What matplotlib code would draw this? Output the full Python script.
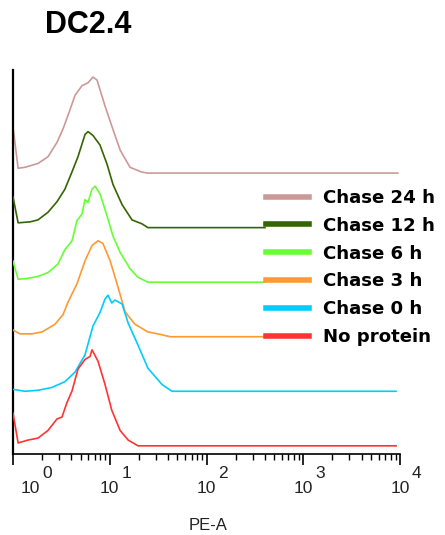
import numpy as np
import matplotlib.pyplot as plt
from matplotlib.lines import Line2D
from matplotlib.ticker import LogLocator, NullFormatter
import matplotlib.transforms as mtransforms

# PE-A values and counts (% of mode)
labels = ['Chase 24 h', 'Chase 12 h', 'Chase 6 h', 'Chase 3 h', 'Chase 0 h', 'No protein']
colors = ['#cc9999', '#336600', '#66ff33', '#ff9933', '#00ccff', '#ff3333']

pe_24h = [1.0, 1.13, 1.33, 1.81, 2.30, 2.85, 3.29, 3.70, 4.38, 5.16, 5.96, 6.71, 7.38, 8.93,
          10.5, 12.8, 16.2, 21.5, 24.8, 9500]
cnt_24h = [48, 5, 6, 10, 17, 32, 46, 60, 81, 91, 94, 100, 97, 70, 49, 24, 6, 1, 0, 0]

pe_12h = [1.0, 1.13, 1.50, 1.81, 2.30, 2.85, 3.44, 4.07, 4.70, 5.55, 5.96, 6.71, 7.93, 9.38,
          10.8, 13.4, 17.0, 21.5, 24.8, 9500]
cnt_12h = [32, 5, 6, 8, 16, 27, 40, 58, 74, 97, 100, 96, 86, 66, 45, 24, 8, 4, 0, 0]

pe_6h = [1.0, 1.13, 1.43, 1.81, 2.30, 2.92, 3.44, 4.07, 4.58, 5.16, 5.55, 5.96, 6.56, 7.05,
         7.93, 9.38, 10.8, 12.8, 16.2, 19.6, 24.8, 9500]
cnt_6h = [22, 3, 4, 6, 10, 19, 34, 43, 64, 71, 86, 83, 97, 100, 92, 69, 48, 31, 14, 5, 0, 0]

pe_3h = [1.0, 1.18, 1.57, 2.00, 2.72, 3.29, 3.70, 4.58, 5.55, 6.56, 7.57, 8.51, 10.1, 11.9,
         14.4, 18.2, 24.8, 34.7, 42.0, 9500]
cnt_3h = [7, 3, 3, 5, 13, 23, 36, 55, 79, 95, 100, 97, 79, 55, 26, 13, 5, 2, 0, 0]

pe_0h = [1.0, 1.33, 1.81, 2.53, 3.44, 4.38, 5.55, 6.71, 7.93, 8.93, 9.59, 10.5, 11.3, 13.4,
         15.5, 19.6, 24.8, 34.7, 44.0, 9100]
cnt_0h = [2, 0, 1, 4, 10, 20, 38, 68, 82, 96, 100, 92, 95, 91, 71, 48, 24, 7, 0, 0]

pe_np = [1.0, 1.13, 1.43, 1.81, 2.30, 2.85, 3.21, 3.61, 4.07, 4.70, 5.55, 6.25, 6.56, 7.57,
         8.93, 10.5, 12.8, 15.5, 19.6, 9100]
cnt_np = [34, 3, 6, 8, 16, 28, 30, 45, 57, 80, 90, 93, 100, 88, 64, 37, 16, 6, 0, 0]

series_x = [pe_24h, pe_12h, pe_6h, pe_3h, pe_0h, pe_np]
series_y = [cnt_24h, cnt_12h, cnt_6h, cnt_3h, cnt_0h, cnt_np]

decades = [1, 10, 100, 1000, 10000]
exponents = ['0', '1', '2', '3', '4']

fig = plt.figure(figsize=(4.45, 5.35), dpi=100)
ax = fig.add_axes([0.0292, 0.1514, 0.8697, 0.7178])

scale = 1.76  # height of 100 % in offset units
n = len(labels)
for i, (xs, ys, c) in enumerate(zip(series_x, series_y, colors)):
    offset = n - 1 - i
    ax.plot(xs, np.array(ys) / 100 * scale + offset, color=c, lw=1.2, zorder=2 + i)

ax.set_xscale('log')
ax.set_xlim(1, 10000)
ax.set_ylim(-0.15, 6.89)
ax.set_yticks([])

for s in ['top', 'right']:
    ax.spines[s].set_visible(False)
ax.spines['left'].set_linewidth(1.6)
ax.spines['bottom'].set_linewidth(1.2)

ax.set_xticks(decades)
ax.xaxis.set_minor_locator(LogLocator(base=10, subs=np.arange(2, 10)))
ax.xaxis.set_minor_formatter(NullFormatter())
ax.set_xticklabels([])
ax.tick_params(axis='x', which='major', length=8, width=1.2, direction='out')
ax.tick_params(axis='x', which='minor', length=4, width=1.0, direction='out')

# decade labels: "10" with a full-size raised exponent
font = 'Liberation Sans'
trans = mtransforms.blended_transform_factory(ax.transData, fig.transFigure)
for k, (d, e) in enumerate(zip(decades, exponents)):
    shift = 17 if k == 0 else 0
    t1 = mtransforms.offset_copy(trans, fig=fig, x=shift * 0.72, y=0, units='points')
    ax.text(d, 1 - 493 / 535, '10', transform=t1, ha='center', va='baseline',
            fontsize=12.5, family=font, color='#222222')
    t2 = mtransforms.offset_copy(trans, fig=fig, x=(shift + 12) * 0.72, y=0, units='points')
    ax.text(d, 1 - 478 / 535, e, transform=t2, ha='left', va='baseline',
            fontsize=12.5, family=font, color='#222222')

fig.text(208 / 445, 1 - 530 / 535, 'PE-A', ha='center', va='baseline',
         fontsize=12, family=font, color='#222222')
fig.text(45 / 445, 1 - 33 / 535, 'DC2.4', ha='left', va='baseline',
         fontsize=22, fontweight='bold', family=font)

handles = [Line2D([], [], color=c, lw=4) for c in colors]
leg = ax.legend(handles, labels, loc='upper left',
                bbox_to_anchor=(266 / 445, 1 - 189 / 535), bbox_transform=fig.transFigure,
                frameon=True, fancybox=False, borderpad=0, borderaxespad=0,
                handlelength=2.35, handletextpad=0.8, labelspacing=0.54,
                prop={'family': 'DejaVu Sans', 'weight': 'bold', 'size': 13.1})
leg.get_frame().set_edgecolor('white')
leg.get_frame().set_facecolor('white')
leg.get_frame().set_alpha(1)
leg.set_zorder(20)
for t in leg.get_texts():
    t.set_color('black')

fig.savefig('out.png', dpi=100)
